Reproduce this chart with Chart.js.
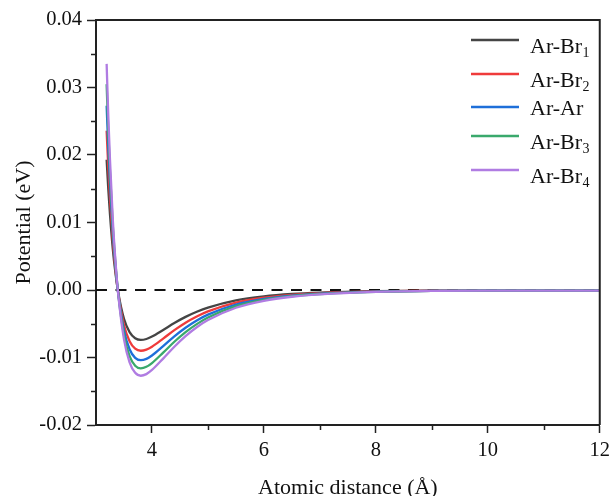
<!DOCTYPE html>
<html>
<head>
<meta charset="utf-8">
<script src="https://cdn.jsdelivr.net/npm/chart.js@4/dist/chart.umd.min.js"></script>
<style>
  html, body { margin: 0; padding: 0; background: #fff; }
  #wrap { width: 615px; height: 496px; position: relative; }
</style>
</head>
<body>
<div id="wrap"><canvas id="c" width="615" height="496"></canvas></div>
<script>
// ---- data ----
const distances = [3.19, 3.22, 3.25, 3.3, 3.35, 3.4, 3.5, 3.6, 3.7, 3.8, 3.9, 4.0, 4.2, 4.4, 4.6, 4.8, 5.0, 5.5, 6.0, 6.5, 7.0, 8.0, 9.0, 10.0, 11.0, 12.0];
const seriesLabels = ['Ar-Br\u2081', 'Ar-Br\u2082', 'Ar-Ar', 'Ar-Br\u2083', 'Ar-Br\u2084'];
const arBr1 = [0.0193, 0.0149, 0.0112, 0.0061, 0.00235, -0.00051, -0.00426, -0.00625, -0.00715, -0.0074, -0.00726, -0.0069, -0.00592, -0.00489, -0.00398, -0.00322, -0.0026, -0.00153, -0.00093, -0.00058, -0.00038, -0.00017, -0.0001, -0.0001, -0.0001, -0.0001];
const arBr2 = [0.0236, 0.0181, 0.0137, 0.00742, 0.00285, -0.00062, -0.00518, -0.0076, -0.00869, -0.0090, -0.00883, -0.0084, -0.0072, -0.00595, -0.00484, -0.00392, -0.00316, -0.00186, -0.00113, -0.00071, -0.00046, -0.00021, -0.00011, -0.0001, -0.0001, -0.0001];
const arAr  = [0.0273, 0.0210, 0.0158, 0.00857, 0.0033, -0.00072, -0.00599, -0.00878, -0.01005, -0.0104, -0.0102, -0.0097, -0.00832, -0.00687, -0.0056, -0.00452, -0.00365, -0.00215, -0.00131, -0.00082, -0.00053, -0.00024, -0.00012, -0.0001, -0.0001, -0.0001];
const arBr3 = [0.0305, 0.0234, 0.0176, 0.00956, 0.00368, -0.0008, -0.00668, -0.00979, -0.01121, -0.0116, -0.01138, -0.01082, -0.00928, -0.00767, -0.00624, -0.00505, -0.00407, -0.0024, -0.00146, -0.00092, -0.00059, -0.00027, -0.00013, -0.0001, -0.0001, -0.0001];
const arBr4 = [0.0335, 0.0257, 0.0193, 0.01046, 0.00403, -0.00088, -0.00732, -0.01072, -0.01227, -0.0127, -0.01246, -0.01185, -0.01016, -0.0084, -0.00683, -0.00552, -0.00446, -0.00263, -0.0016, -0.001, -0.00065, -0.00029, -0.00014, -0.0001, -0.0001, -0.0001];
const zeroLineX = [3, 12];
const zeroLineY = [0, 0];
const xTickLabels = ['4', '6', '8', '10', '12'];
const yTickLabels = ['-0.02', '-0.01', '0.00', '0.01', '0.02', '0.03', '0.04'];

const seriesValues = [arBr1, arBr2, arAr, arBr3, arBr4];
const seriesColors = ['#454545', '#ef3b3b', '#1e6fd9', '#3aa96c', '#b07ce2'];

const toPoints = (xs, ys) => xs.map((x, i) => ({ x: x, y: ys[i] }));

const datasets = seriesValues.map((vals, i) => ({
  label: seriesLabels[i],
  data: toPoints(distances, vals),
  borderColor: seriesColors[i],
  backgroundColor: seriesColors[i],
  borderWidth: 2.3,
  pointRadius: 0,
  fill: false,
  cubicInterpolationMode: 'monotone',
  order: seriesValues.length - i
}));
datasets.push({
  label: 'zero',
  data: toPoints(zeroLineX, zeroLineY),
  borderColor: '#111',
  borderWidth: 2,
  borderDash: [11, 8.5],
  pointRadius: 0,
  fill: false,
  order: 10
});

const FONT = "'Liberation Serif', 'Times New Roman', serif";
const isMajorY = v => Math.abs(v * 100 - Math.round(v * 100)) < 1e-6;
const isMajorX = v => Math.abs(v / 2 - Math.round(v / 2)) < 1e-6 && v >= 4;

const subMap = { '\u2080': '0', '\u2081': '1', '\u2082': '2', '\u2083': '3', '\u2084': '4' };

const framePlugin = {
  id: 'frame',
  afterDraw(chart) {
    const { ctx, chartArea: a, scales } = chart;
    ctx.save();
    // top and right border
    ctx.strokeStyle = '#222';
    ctx.lineWidth = 2;
    ctx.beginPath();
    ctx.moveTo(a.left, a.top);
    ctx.lineTo(a.right, a.top);
    ctx.lineTo(a.right, a.bottom);
    ctx.stroke();
    // minor ticks
    ctx.lineWidth = 1.5;
    ctx.beginPath();
    scales.y.ticks.forEach(t => {
      if (!isMajorY(t.value)) {
        const py = Math.round(scales.y.getPixelForValue(t.value)) + 0.5;
        ctx.moveTo(a.left - 5, py);
        ctx.lineTo(a.left, py);
      }
    });
    scales.x.ticks.forEach(t => {
      if (!isMajorX(t.value) && t.value > 3) {
        const px = Math.round(scales.x.getPixelForValue(t.value)) + 0.5;
        ctx.moveTo(px, a.bottom);
        ctx.lineTo(px, a.bottom + 5);
      }
    });
    ctx.stroke();

    // legend
    const rowsY = [40, 74, 107, 136, 170];
    const lineX0 = 471, lineX1 = 519, textX = 530;
    chart.data.datasets.forEach((ds, i) => {
      if (i >= rowsY.length) return;
      const y = rowsY[i];
      ctx.strokeStyle = ds.borderColor;
      ctx.lineWidth = 2.3;
      ctx.beginPath();
      ctx.moveTo(lineX0, y);
      ctx.lineTo(lineX1, y);
      ctx.stroke();
      let main = ds.label, sub = '';
      const last = main.charAt(main.length - 1);
      if (subMap[last]) { sub = subMap[last]; main = main.slice(0, -1); }
      ctx.fillStyle = '#111';
      ctx.textAlign = 'left';
      ctx.textBaseline = 'alphabetic';
      ctx.font = '22px ' + FONT;
      const base = sub ? y + 12.5 : y + 8;
      ctx.fillText(main, textX, base);
      if (sub) {
        const w = ctx.measureText(main).width;
        ctx.font = '14px ' + FONT;
        ctx.fillText(sub, textX + w + 0.5, base + 4.5);
      }
    });
    ctx.restore();
  }
};

new Chart(document.getElementById('c'), {
  type: 'line',
  data: { datasets: datasets },
  options: {
    responsive: false,
    animation: false,
    events: [],
    layout: { padding: { top: 20, right: 12, left: 0, bottom: 0 } },
    plugins: { legend: { display: false }, tooltip: { enabled: false } },
    scales: {
      x: {
        type: 'linear',
        min: 3, max: 12,
        afterFit(s) { s.height = 71; },
        grid: {
          drawOnChartArea: false, drawTicks: true, tickLength: 8,
          tickWidth: 1.5,
          tickColor: c => (isMajorX(c.tick.value) ? '#222' : 'rgba(0,0,0,0)')
        },
        border: { display: true, color: '#222', width: 2 },
        ticks: {
          stepSize: 1,
          padding: 5,
          color: '#111',
          font: { family: FONT, size: 20.5 },
          maxRotation: 0,
          autoSkip: false,
          callback: v => {
            const s = String(Math.round(v));
            return isMajorX(v) && xTickLabels.includes(s) ? s : '';
          }
        },
        title: {
          display: true, text: 'Atomic distance (\u00C5)', color: '#111',
          font: { family: FONT, size: 22, lineHeight: 0.72 },
          padding: { top: 0, bottom: 0 }
        }
      },
      y: {
        type: 'linear',
        min: -0.02, max: 0.04,
        afterFit(s) { s.width = 96; },
        grid: {
          drawOnChartArea: false, drawTicks: true, tickLength: 9,
          tickWidth: 1.5,
          tickColor: c => (isMajorY(c.tick.value) ? '#222' : 'rgba(0,0,0,0)')
        },
        border: { display: true, color: '#222', width: 2 },
        ticks: {
          stepSize: 0.005,
          padding: 5,
          color: '#111',
          font: { family: FONT, size: 20.5 },
          autoSkip: false,
          callback: v => {
            if (!isMajorY(v)) return '';
            const s = (Math.round(v * 100) / 100).toFixed(2);
            const label = s === '-0.00' ? '0.00' : s;
            return yTickLabels.includes(label) ? label : '';
          }
        },
        title: {
          display: true, text: 'Potential (eV)', color: '#111',
          font: { family: FONT, size: 22, lineHeight: 1 },
          padding: { top: 13, bottom: 0 }
        }
      }
    }
  },
  plugins: [framePlugin]
});
</script>
</body>
</html>
